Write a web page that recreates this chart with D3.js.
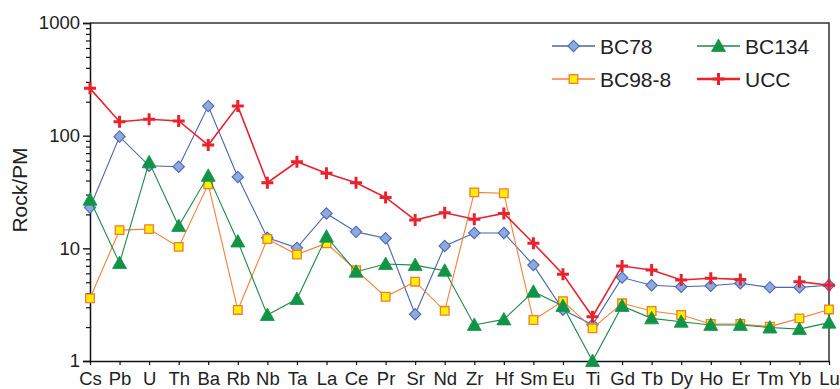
<!DOCTYPE html>
<html>
<head>
<meta charset="utf-8">
<script src="https://cdn.jsdelivr.net/npm/d3@7"></script>
<style>
  body { margin: 0; background: #fff; }
  svg { display: block; font-family: "Liberation Sans", Arial, sans-serif; }
</style>
</head>
<body>
<div class="canvas"></div>
<script>
// element order on the x axis
const elements = ['Cs','Pb','U','Th','Ba','Rb','Nb','Ta','La','Ce','Pr','Sr','Nd','Zr','Hf','Sm','Eu','Ti','Gd','Tb','Dy','Ho','Er','Tm','Yb','Lu'];

// values normalised to primitive mantle
const bc78   = [23, 98, 54, 53, 183, 43, 12.4, 10.1, 20.4, 14, 12.3, 2.6, 10.5, 13.7, 13.7, 7.1, 2.85, 2.1, 5.5, 4.7, 4.56, 4.65, 4.9, 4.5, 4.5, 4.7];
const bc98_8 = [3.6, 14.5, 14.8, 10.3, 37, 2.84, 12.1, 8.8, 11.1, 6.4, 3.72, 5.06, 2.79, 31.4, 30.8, 2.31, 3.4, 1.95, 3.25, 2.78, 2.56, 2.13, 2.13, 2.02, 2.39, 2.87];
const bc134  = [27, 7.4, 58, 15.8, 44, 11.5, 2.56, 3.55, 12.7, 6.2, 7.26, 7.1, 6.33, 2.09, 2.34, 4.12, 3.08, 1.0, 3.08, 2.39, 2.23, 2.09, 2.09, 1.98, 1.92, 2.19];
const ucc    = [263, 133, 140, 135, 82.6, 183, 38.2, 58.7, 46.3, 38.2, 28.3, 17.8, 20.7, 18.1, 20.4, 11.1, 5.88, 2.47, 6.97, 6.42, 5.23, 5.42, 5.3, null, 5.06, 4.7];

const yMajor = [1, 10, 100, 1000];

const width = 840, height = 389;
const margin = {top: 23, bottom: 28, left: 90, right: 11};

const svg = d3.select('.canvas')
  .append('svg')
    .attr('width', width)
    .attr('height', height);

const x = d3.scalePoint()
  .domain(elements)
  .range([margin.left, width - margin.right]);

const y = d3.scaleLog()
  .domain([1, 1000])
  .range([height - margin.bottom, margin.top]);

// frame (top + right)
svg.append('path')
  .attr('d', `M${margin.left},${margin.top}H${width - margin.right}V${height - margin.bottom}`)
  .attr('fill', 'none')
  .attr('stroke', '#333')
  .attr('stroke-width', 1.5);

// minor ticks on y
const yMinor = [];
for (let d = 1; d < 1000; d *= 10) {
  for (let k = 2; k <= 9; k++) yMinor.push(d * k);
}
const yMinorAxis = svg.append('g')
  .attr('transform', `translate(${margin.left},0)`)
  .call(d3.axisLeft(y).tickValues(yMinor).tickSize(4).tickFormat(''));
yMinorAxis.select('.domain').remove();
yMinorAxis.selectAll('line').attr('stroke', '#111').attr('stroke-width', 1.2);

const yAxis = svg.append('g')
  .attr('transform', `translate(${margin.left},0)`)
  .call(d3.axisLeft(y).tickValues(yMajor).tickSize(7).tickPadding(3).tickFormat(d3.format('d')));
yAxis.select('.domain').attr('stroke', '#111').attr('stroke-width', 1.5);
yAxis.selectAll('line').attr('stroke', '#111').attr('stroke-width', 1.4);
yAxis.selectAll('text').attr('font-size', '18.5px').attr('fill', '#222')
  .attr('font-family', '"Liberation Sans", Arial, sans-serif');

const xAxis = svg.append('g')
  .attr('transform', `translate(0,${height - margin.bottom})`)
  .call(d3.axisBottom(x).tickSize(4).tickPadding(7).tickSizeOuter(0));
xAxis.select('.domain').attr('stroke', '#111').attr('stroke-width', 1.5);
xAxis.selectAll('line').attr('stroke', '#111').attr('stroke-width', 1.2);
xAxis.selectAll('text').attr('font-size', '18.5px').attr('fill', '#222')
  .attr('font-family', '"Liberation Sans", Arial, sans-serif');

svg.append('text')
  .attr('transform', 'translate(27,190) rotate(-90)')
  .attr('text-anchor', 'middle')
  .attr('font-size', '21px')
  .attr('fill', '#222')
  .text('Rock/PM');

// marker shapes
const diamond = d3.symbol().type(d3.symbolDiamond2).size(82)();
const square = d3.symbol().type(d3.symbolSquare2).size(95)();
const tri = 'M0,-7L7,5.5L-7,5.5Z';
const plus = 'M-6,0H6M0,-6V6';

const series = [
  {name: 'BC78', values: bc78, line: '#4a64b0', lw: 1.1, marker: diamond, fill: '#8eaadc', stroke: '#4a68b8', sw: 1.1},
  {name: 'BC98-8', values: bc98_8, line: '#f4803a', lw: 1.1, marker: square, fill: '#fff000', stroke: '#f47a30', sw: 1.3},
  {name: 'BC134', values: bc134, line: '#1d8a44', lw: 1.1, marker: tri, fill: '#129447', stroke: '#129447', sw: 0.8},
  {name: 'UCC', values: ucc, line: '#e8232e', lw: 1.6, marker: plus, fill: 'none', stroke: '#e8232e', sw: 3}
];

const line = d3.line()
  .defined(d => d.v != null)
  .x(d => x(d.el))
  .y(d => y(d.v));

series.forEach(s => {
  const pts = elements.map((el, i) => ({el, v: s.values[i]}));
  const g = svg.append('g');
  g.append('path')
    .datum(pts)
    .attr('d', line)
    .attr('fill', 'none')
    .attr('stroke', s.line)
    .attr('stroke-width', s.lw);
  g.selectAll('path.m')
    .data(pts.filter(d => d.v != null))
    .enter()
    .append('path')
      .attr('class', 'm')
      .attr('d', s.marker)
      .attr('transform', d => `translate(${x(d.el)},${y(d.v)})`)
      .attr('fill', s.fill)
      .attr('stroke', s.stroke)
      .attr('stroke-width', s.sw);
});

// legend, two columns
const legendPos = [
  {s: series[0], x: 552, y: 46},
  {s: series[2], x: 697, y: 46},
  {s: series[1], x: 552, y: 79},
  {s: series[3], x: 697, y: 79}
];
legendPos.forEach(p => {
  const g = svg.append('g').attr('transform', `translate(${p.x},${p.y})`);
  g.append('line')
    .attr('x1', 0).attr('x2', 43)
    .attr('stroke', p.s.line)
    .attr('stroke-width', p.s.name === 'UCC' ? 2.5 : 1.6);
  g.append('path')
    .attr('d', p.s.marker)
    .attr('transform', 'translate(21.5,0)')
    .attr('fill', p.s.fill)
    .attr('stroke', p.s.stroke)
    .attr('stroke-width', p.s.sw);
  g.append('text')
    .attr('x', 48)
    .attr('dy', '0.36em')
    .attr('font-size', '21px')
    .attr('fill', '#222')
    .text(p.s.name);
});
</script>
</body>
</html>
